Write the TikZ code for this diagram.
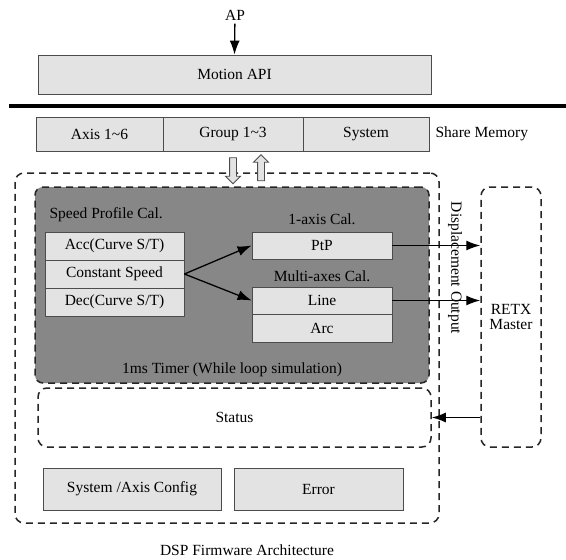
\documentclass[tikz,border=0pt]{standalone}
\usepackage{fontspec}
\setmainfont{Liberation Serif}
\usetikzlibrary{arrows.meta,shapes.arrows}
\definecolor{boxgray}{HTML}{E3E3E3}
\definecolor{timergray}{HTML}{878787}
\tikzset{lightbox/.style={draw=black!70,fill=boxgray,line width=0.8pt,inner sep=0pt}}
\tikzset{dashbox/.style={draw=black!85,line width=1.5pt,dash pattern=on 7pt off 5pt,rounded corners=9pt,inner sep=0pt}}
\tikzset{link/.style={-{Latex[length=14pt,width=10pt]},line width=1.3pt}}
\tikzset{hollow/.style={single arrow,draw=black!70,fill=boxgray,line width=0.8pt,inner sep=3pt,single arrow head extend=4pt,minimum height=26pt}}

\begin{document}
\begin{tikzpicture}[x=1pt,y=-1pt,font=\fontsize{15.5}{18}\selectfont]
\useasboundingbox (0,0) rectangle (566,560);
% application side
\node (ap) at (235,15) {AP};
\node (api) [lightbox,minimum width=393pt,minimum height=39pt] at (234.5,74.5) {Motion API};
\draw[link] (ap) -- (api.north);
\draw[line width=4pt] (9,106) -- (566,106);
% share memory
\node (axis) [lightbox,minimum width=127pt,minimum height=34pt] at (99.5,134) {Axis 1\textasciitilde 6};
\node (group) [lightbox,minimum width=140pt,minimum height=34pt] at (233,134) {Group 1\textasciitilde 3};
\node (system) [lightbox,minimum width=126pt,minimum height=34pt] at (366,134) {System};
\node (shm) [anchor=west] at (432,134) {Share Memory};
%
\node (dsp) [dashbox,minimum width=424pt,minimum height=350pt] at (227,348) {};
\node (down) [hollow,shape border rotate=270] at (233,169) {};
\node (up) [hollow,shape border rotate=90] at (261,169.5) {};
% 1ms timer loop
\node (timer) [dashbox,fill=timergray,rounded corners=8pt,minimum width=394pt,minimum height=196pt] at (232,285) {};
\node (spc) [anchor=west] at (46,215) {Speed Profile Cal.};
\node (acc) [lightbox,minimum width=139pt,minimum height=28pt] at (114.5,246) {Acc(Curve S/T)};
\node (const) [lightbox,minimum width=139pt,minimum height=28pt] at (114.5,274) {Constant Speed};
\node (dec) [lightbox,minimum width=139pt,minimum height=28pt] at (114.5,302) {Dec(Curve S/T)};
\node (onecal) at (322,219) {1-axis Cal.};
\node (ptp) [lightbox,minimum width=140pt,minimum height=27pt] at (322,245.5) {PtP};
\node (multical) at (322,276) {Multi-axes Cal.};
\node (line) [lightbox,minimum width=140pt,minimum height=27pt] at (322,300.5) {Line};
\node (arc) [lightbox,minimum width=140pt,minimum height=28pt] at (322,328) {Arc};
\node (tmr) at (232,370) {1ms Timer (While loop simulation)};
\draw[link] (const.east) -- (ptp.west);
\draw[link] (const.east) -- (line.west);
%
\node (status) [dashbox,minimum width=393pt,minimum height=59pt] at (234.5,417.5) {Status};
\node (retx) [dashbox,align=center,minimum width=60pt,minimum height=260pt] at (511,317) {RETX\\[-3pt]Master};
\node (disp) [rotate=-90] at (455,268) {Displacement Output};
\draw[link] (ptp.east) -- (ptp.east -| retx.west);
\draw[link] (line.east) -- (line.east -| retx.west);
\draw[link] (retx.west |- status.east) -- (status.east);
%
\node (config) [lightbox,minimum width=178pt,minimum height=42pt] at (132,489) {System /Axis Config};
\node (error) [lightbox,minimum width=169pt,minimum height=42pt] at (318.5,489) {Error};
\node (caption) at (247,550) {DSP Firmware Architecture};
\end{tikzpicture}
\end{document}
